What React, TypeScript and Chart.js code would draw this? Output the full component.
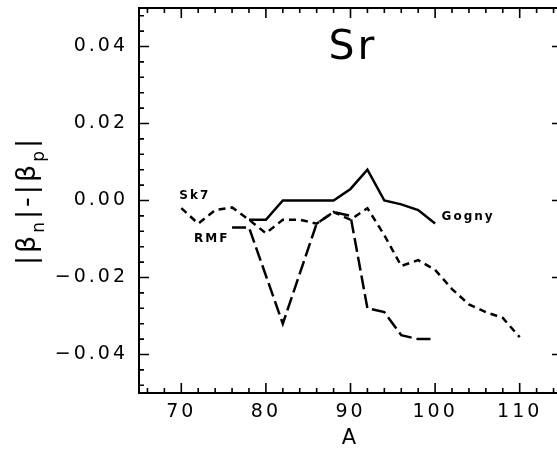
import React, { useEffect, useRef } from "react";
import { Chart, registerables } from "chart.js";
Chart.register(...registerables);

// Mass number A and |beta_n|-|beta_p| for Sr isotopes
const gognyA = [78, 80, 82, 84, 86, 88, 90, 92, 94, 96, 98, 100];
const gognyV = [-0.005, -0.005, 0.0, 0.0, 0.0, 0.0, 0.003, 0.008, 0.0, -0.001, -0.0025, -0.006];

const sk7A = [70, 72, 74, 76, 78, 80, 82, 84, 86, 88, 90, 92, 94, 96, 98, 100, 102, 104, 106, 108, 110];
const sk7V = [-0.002, -0.006, -0.0025, -0.0018, -0.005, -0.0085, -0.005, -0.005, -0.006, -0.003, -0.005, -0.002, -0.009, -0.017, -0.0155, -0.018, -0.023, -0.027, -0.029, -0.0305, -0.0355];

const rmfA = [76, 78, 82, 86, 88, 90, 92, 94, 96, 98, 100];
const rmfV = [-0.007, -0.007, -0.032, -0.006, -0.003, -0.004, -0.028, -0.029, -0.035, -0.036, -0.036];

const xTickLabels = [70, 80, 90, 100, 110];
const yTickLabels = [0.04, 0.02, 0.0, -0.02, -0.04];

const X_MIN = 65;
const X_MAX = 115;
const Y_MIN = -0.05;
const Y_MAX = 0.05;

// text annotations (anchored in data units)
const curveLabels = [
  { text: "Sk7", A: 71.6, v: 0.0012 },
  { text: "RMF", A: 73.6, v: -0.0100 },
  { text: "Gogny", A: 103.9, v: -0.0043 },
];
const elementLabel = { text: "Sr", A: 90.3, v: 0.0395 };

const FONT = '"DejaVu Sans", sans-serif';

const toXY = (xs: number[], ys: number[]) => xs.map((x, i) => ({ x, y: ys[i] }));

const framePlugin = {
  id: "frameAndText",
  beforeDraw(chart: any) {
    (chart.ctx as any).letterSpacing = "3px";
  },
  afterDraw(chart: any) {
    const { ctx, chartArea: a, scales } = chart;
    const xs = scales.x;
    const ys = scales.y;
    ctx.save();
    (ctx as any).letterSpacing = "0px";
    ctx.strokeStyle = "#000";
    ctx.lineWidth = 2;
    ctx.strokeRect(a.left, a.top, a.right - a.left, a.bottom - a.top);

    // inward ticks
    ctx.lineWidth = 1.6;
    ctx.beginPath();
    for (let k = X_MIN + 1; k < X_MAX; k += 2) {
      const px = xs.getPixelForValue(k);
      const len = k % 10 === 0 ? 10 : 5;
      ctx.moveTo(px, a.bottom);
      ctx.lineTo(px, a.bottom - len);
      ctx.moveTo(px, a.top);
      ctx.lineTo(px, a.top + len);
    }
    for (let i = -12; i <= 12; i++) {
      const py = ys.getPixelForValue(i * 0.004);
      const len = i % 5 === 0 ? 10 : 5;
      ctx.moveTo(a.left, py);
      ctx.lineTo(a.left + len, py);
      ctx.moveTo(a.right, py);
      ctx.lineTo(a.right - len, py);
    }
    ctx.stroke();

    ctx.fillStyle = "#000";
    ctx.textAlign = "center";
    ctx.textBaseline = "middle";

    // element label
    (ctx as any).letterSpacing = "3px";
    ctx.font = `41px ${FONT}`;
    ctx.fillText(elementLabel.text, xs.getPixelForValue(elementLabel.A), ys.getPixelForValue(elementLabel.v));

    // curve labels
    (ctx as any).letterSpacing = "2px";
    ctx.font = `bold 12px ${FONT}`;
    for (const l of curveLabels) {
      ctx.fillText(l.text, xs.getPixelForValue(l.A), ys.getPixelForValue(l.v));
    }

    // y-axis title with subscripts
    ctx.translate(35, (a.top + a.bottom) / 2);
    ctx.rotate(-Math.PI / 2);
    ctx.textAlign = "left";
    ctx.textBaseline = "alphabetic";
    (ctx as any).letterSpacing = "3px";
    const big = `27px ${FONT}`;
    const small = `17px ${FONT}`;
    const parts: [string, string, number][] = [
      ["|β", big, 0],
      ["n", small, 9],
      ["|-|β", big, 0],
      ["p", small, 9],
      ["|", big, 0],
    ];
    let total = 0;
    const widths = parts.map(([t, f]) => {
      ctx.font = f;
      const w = ctx.measureText(t).width;
      total += w;
      return w;
    });
    let cx = -total / 2;
    parts.forEach(([t, f, dy], i) => {
      ctx.font = f;
      ctx.fillText(t, cx, dy);
      cx += widths[i];
    });
    ctx.restore();
    (ctx as any).letterSpacing = "0px";
  },
};

export default function App() {
  const ref = useRef<HTMLCanvasElement | null>(null);

  useEffect(() => {
    if (!ref.current) return;
    const lineCommon = {
      borderColor: "#000",
      borderWidth: 2.5,
      pointRadius: 0,
      tension: 0,
      fill: false,
      borderCapStyle: "butt" as const,
    };
    const chart = new Chart(ref.current, {
      type: "line",
      data: {
        datasets: [
          { ...lineCommon, label: "Gogny", data: toXY(gognyA, gognyV) },
          { ...lineCommon, label: "Sk7", data: toXY(sk7A, sk7V), borderDash: [7, 5] },
          { ...lineCommon, label: "RMF", data: toXY(rmfA, rmfV), borderDash: [14, 5] },
        ],
      },
      options: {
        animation: false,
        responsive: false,
        layout: { padding: { top: 8, right: 4, left: 0, bottom: 0 } },
        plugins: { legend: { display: false }, tooltip: { enabled: false } },
        scales: {
          x: {
            type: "linear",
            min: X_MIN,
            max: X_MAX,
            grid: { display: false, drawTicks: false },
            border: { display: false },
            afterBuildTicks: (s: any) => {
              s.ticks = xTickLabels.map((v) => ({ value: v }));
            },
            afterFit: (s: any) => {
              s.height = 66;
              s.paddingLeft = 0;
              s.paddingRight = 0;
              s.paddingTop = 0;
              s.paddingBottom = 0;
            },
            ticks: {
              color: "#000",
              font: { family: FONT, size: 19 },
              padding: 8,
              maxRotation: 0,
              autoSkip: false,
              callback: (v: any) => String(v),
            },
            title: {
              display: true,
              text: "A",
              color: "#000",
              font: { family: FONT, size: 21 },
              padding: { top: 0, bottom: 8 },
            },
          },
          y: {
            type: "linear",
            min: Y_MIN,
            max: Y_MAX,
            grid: { display: false, drawTicks: false },
            border: { display: false },
            afterBuildTicks: (s: any) => {
              s.ticks = yTickLabels.map((v) => ({ value: v }));
            },
            afterFit: (s: any) => {
              s.width = 139;
              s.paddingLeft = 0;
              s.paddingRight = 0;
              s.paddingTop = 0;
              s.paddingBottom = 0;
            },
            ticks: {
              color: "#000",
              font: { family: FONT, size: 19 },
              padding: 11,
              autoSkip: false,
              callback: (v: any) => Number(v).toFixed(2).replace("-", "−").replace("−0.00", "0.00"),
            },
          },
        },
      },
      plugins: [framePlugin],
    });
    return () => chart.destroy();
  }, []);

  return (
    <div style={{ position: "absolute", left: 0, top: 0, width: 557, height: 459, overflow: "hidden", background: "#fff" }}>
      <canvas ref={ref} width={566} height={459} style={{ display: "block", width: 566, height: 459 }} />
    </div>
  );
}
